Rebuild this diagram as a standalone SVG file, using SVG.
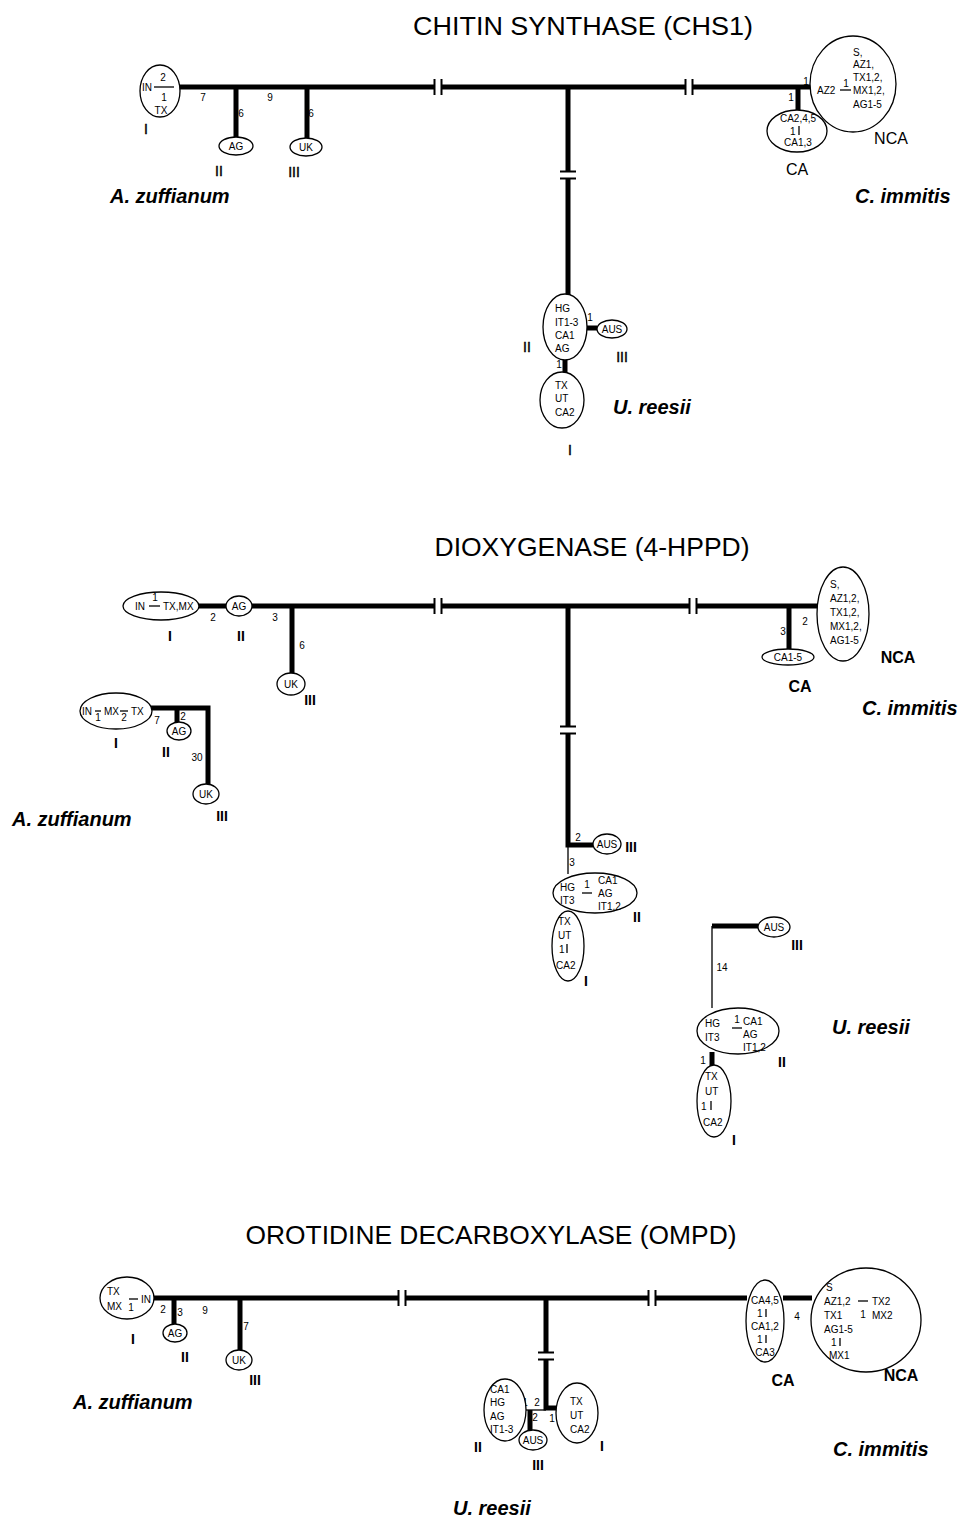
<svg xmlns="http://www.w3.org/2000/svg" xmlns:xlink="http://www.w3.org/1999/xlink" width="968" height="1520" viewBox="0 0 968 1520">
<style>
.th{stroke:#000;stroke-width:5;fill:none}
.tn{stroke:#000;stroke-width:1.3;fill:none}
.el{fill:#fff;stroke:#000;stroke-width:1.3}
.bk{stroke:#000;stroke-width:2}
text{font-family:"Liberation Sans",Arial,sans-serif;fill:#000}
.s{font-size:10px}
.c{text-anchor:middle}
.rn{font-size:14px;stroke:#000;stroke-width:0.4}
.rb{font-size:14px;font-weight:bold}
.sp{font-size:20px;font-weight:bold;font-style:italic}
.ti{font-size:25px}
.cl{font-size:16px}
.clb{font-size:16px;font-weight:bold}
</style>
<defs>
<g id="hb"><rect x="-3.5" y="-6" width="7" height="12" fill="#fff"/><line class="bk" x1="-3.5" y1="-8" x2="-3.5" y2="8"/><line class="bk" x1="3.5" y1="-8" x2="3.5" y2="8"/></g>
<g id="vb"><rect x="-6" y="-3.5" width="12" height="7" fill="#fff"/><line class="bk" x1="-8" y1="-3.5" x2="8" y2="-3.5"/><line class="bk" x1="-8" y1="3.5" x2="8" y2="3.5"/></g>
</defs>
<rect width="968" height="1520" fill="#fff"/>

<!-- ================= CHS1 ================= -->
<text class="ti c" x="583" y="35" textLength="340" lengthAdjust="spacingAndGlyphs">CHITIN SYNTHASE (CHS1)</text>

<g id="connectors-chs1">
<path class="th" d="M172 87H812M236 87V137M307 87V138M568 87V295M798 87V110M587 328H597M565 359V373"/>
<use xlink:href="#hb" x="438" y="87"/>
<use xlink:href="#hb" x="689" y="87"/>
<use xlink:href="#vb" x="568" y="175"/>
<text class="s c" x="203" y="101">7</text>
<text class="s c" x="270" y="101">9</text>
<text class="s c" x="241" y="117">6</text>
<text class="s c" x="311" y="117">6</text>
<text class="s c" x="806" y="85">1</text>
<text class="s c" x="791" y="101">1</text>
<text class="s c" x="590" y="321">1</text>
<text class="s c" x="559" y="368">1</text>
</g>

<g id="chs1-az-I">
<ellipse class="el" cx="160" cy="91" rx="20" ry="26"/>
<line class="tn" x1="154" y1="87" x2="174" y2="87"/>
<text class="s" x="142" y="91">IN</text>
<text class="s c" x="163" y="81">2</text>
<text class="s c" x="164" y="101">1</text>
<text class="s c" x="161" y="114">TX</text>
<text class="rn c" x="146" y="134">I</text>
</g>
<g id="chs1-az-II">
<ellipse class="el" cx="236" cy="146" rx="17" ry="9"/>
<text class="s c" x="236" y="150">AG</text>
<text class="rn c" x="219" y="176">II</text>
</g>
<g id="chs1-az-III">
<ellipse class="el" cx="306" cy="147" rx="16" ry="9"/>
<text class="s c" x="306" y="151">UK</text>
<text class="rn c" x="294" y="177">III</text>
</g>
<text class="sp" x="110" y="203">A. zuffianum</text>

<g id="chs1-ci-NCA">
<ellipse class="el" cx="853" cy="84" rx="43" ry="48"/>
<text class="s" x="853" y="56">S,</text>
<text class="s" x="853" y="68">AZ1,</text>
<text class="s" x="853" y="81">TX1,2,</text>
<text class="s" x="853" y="94">MX1,2,</text>
<text class="s" x="853" y="108">AG1-5</text>
<text class="s" x="817" y="94">AZ2</text>
<line class="tn" x1="840" y1="90" x2="851" y2="90"/>
<text class="s c" x="846" y="87">1</text>
<text class="cl c" x="891" y="144">NCA</text>
</g>
<g id="chs1-ci-CA">
<ellipse class="el" cx="797" cy="131" rx="30" ry="21"/>
<text class="s c" x="798" y="122">CA2,4,5</text>
<text class="s" x="790" y="135">1</text>
<line class="tn" x1="799" y1="126" x2="799" y2="135"/>
<text class="s c" x="798" y="146">CA1,3</text>
<text class="cl c" x="797" y="175">CA</text>
</g>
<text class="sp" x="855" y="203">C. immitis</text>

<g id="chs1-ur-II">
<ellipse class="el" cx="565" cy="327" rx="22" ry="33"/>
<text class="s" x="555" y="312">HG</text>
<text class="s" x="555" y="326">IT1-3</text>
<text class="s" x="555" y="339">CA1</text>
<text class="s" x="555" y="352">AG</text>
<text class="rn c" x="527" y="352">II</text>
</g>
<g id="chs1-ur-III">
<ellipse class="el" cx="612" cy="329" rx="15" ry="9"/>
<text class="s c" x="612" y="333">AUS</text>
<text class="rn c" x="622" y="362">III</text>
</g>
<g id="chs1-ur-I">
<ellipse class="el" cx="562" cy="400" rx="22" ry="28"/>
<text class="s" x="555" y="389">TX</text>
<text class="s" x="555" y="402">UT</text>
<text class="s" x="555" y="416">CA2</text>
<text class="rn c" x="570" y="455">I</text>
</g>
<text class="sp" x="613" y="414">U. reesii</text>

<!-- ================= 4-HPPD ================= -->
<text class="ti c" x="592" y="556" textLength="315" lengthAdjust="spacingAndGlyphs">DIOXYGENASE (4-HPPD)</text>

<g id="connectors-hppd">
<path class="th" d="M199 606H226M252 606H818M292 606V673M789 606V649M568 606V845H593M150 708H208V784M177 708V723M712 926H758M712 1052V1066"/>
<path class="tn" d="M568 845V874M712 926V1008"/>
<use xlink:href="#hb" x="438" y="606"/>
<use xlink:href="#hb" x="693" y="606"/>
<use xlink:href="#vb" x="568" y="730"/>
<text class="s c" x="213" y="621">2</text>
<text class="s c" x="275" y="621">3</text>
<text class="s c" x="302" y="649">6</text>
<text class="s c" x="783" y="635">3</text>
<text class="s c" x="805" y="625">2</text>
<text class="s c" x="157" y="724">7</text>
<text class="s c" x="183" y="720">2</text>
<text class="s c" x="197" y="761">30</text>
<text class="s c" x="578" y="841">2</text>
<text class="s c" x="572" y="866">3</text>
<text class="s c" x="722" y="971">14</text>
<text class="s c" x="703" y="1064">1</text>
</g>

<g id="hppd-az-I">
<ellipse class="el" cx="161" cy="606" rx="38" ry="14"/>
<text class="s" x="135" y="610">IN</text>
<line class="tn" x1="149" y1="606" x2="160" y2="606"/>
<text class="s c" x="155" y="601">1</text>
<text class="s" x="163" y="610">TX,MX</text>
<text class="rb c" x="170" y="641">I</text>
</g>
<g id="hppd-az-II">
<ellipse class="el" cx="239" cy="606" rx="13" ry="10"/>
<text class="s c" x="239" y="610">AG</text>
<text class="rb c" x="241" y="641">II</text>
</g>
<g id="hppd-az-III">
<ellipse class="el" cx="291" cy="684" rx="14" ry="11"/>
<text class="s c" x="291" y="688">UK</text>
<text class="rb c" x="310" y="705">III</text>
</g>
<g id="hppd-az2-I">
<ellipse class="el" cx="116" cy="711" rx="36" ry="18"/>
<text class="s" x="82" y="715">IN</text>
<line class="tn" x1="95" y1="711" x2="101" y2="711"/>
<text class="s c" x="98" y="721">1</text>
<text class="s" x="104" y="715">MX</text>
<line class="tn" x1="120" y1="711" x2="128" y2="711"/>
<text class="s c" x="124" y="721">2</text>
<text class="s" x="131" y="715">TX</text>
<text class="rb c" x="116" y="748">I</text>
</g>
<g id="hppd-az2-II">
<ellipse class="el" cx="179" cy="731" rx="12" ry="9"/>
<text class="s c" x="179" y="735">AG</text>
<text class="rb c" x="166" y="757">II</text>
</g>
<g id="hppd-az2-III">
<ellipse class="el" cx="206" cy="794" rx="13" ry="10"/>
<text class="s c" x="206" y="798">UK</text>
<text class="rb c" x="222" y="821">III</text>
</g>
<text class="sp" x="12" y="826">A. zuffianum</text>

<g id="hppd-ci-NCA">
<ellipse class="el" cx="843" cy="614" rx="26" ry="47"/>
<text class="s" x="830" y="588">S,</text>
<text class="s" x="830" y="602">AZ1,2,</text>
<text class="s" x="830" y="616">TX1,2,</text>
<text class="s" x="830" y="630">MX1,2,</text>
<text class="s" x="830" y="644">AG1-5</text>
<text class="clb c" x="898" y="663">NCA</text>
</g>
<g id="hppd-ci-CA">
<ellipse class="el" cx="788" cy="657" rx="26" ry="8"/>
<text class="s c" x="788" y="661">CA1-5</text>
<text class="clb c" x="800" y="692">CA</text>
</g>
<text class="sp" x="862" y="715">C. immitis</text>

<g id="hppd-ur1-III">
<ellipse class="el" cx="607" cy="844" rx="14" ry="10"/>
<text class="s c" x="607" y="848">AUS</text>
<text class="rb c" x="631" y="852">III</text>
</g>
<g id="hppd-ur1-I">
<ellipse class="el" cx="568" cy="946" rx="16" ry="35"/>
<text class="s" x="558" y="925">TX</text>
<text class="s" x="558" y="939">UT</text>
<text class="s" x="559" y="953">1</text>
<line class="tn" x1="567" y1="944" x2="567" y2="953"/>
<text class="s" x="556" y="969">CA2</text>
<text class="rb c" x="586" y="986">I</text>
</g>
<g id="hppd-ur1-II">
<ellipse class="el" cx="595" cy="893" rx="42" ry="20"/>
<text class="s" x="560" y="891">HG</text>
<text class="s" x="560" y="904">IT3</text>
<line class="tn" x1="582" y1="893" x2="592" y2="893"/>
<text class="s c" x="587" y="888">1</text>
<text class="s" x="598" y="884">CA1</text>
<text class="s" x="598" y="897">AG</text>
<text class="s" x="598" y="910">IT1,2</text>
<text class="rb c" x="637" y="922">II</text>
</g>

<g id="hppd-ur2-III">
<ellipse class="el" cx="774" cy="927" rx="16" ry="10"/>
<text class="s c" x="774" y="931">AUS</text>
<text class="rb c" x="797" y="950">III</text>
</g>
<g id="hppd-ur2-II">
<ellipse class="el" cx="738" cy="1031" rx="41" ry="23"/>
<text class="s" x="705" y="1027">HG</text>
<text class="s" x="705" y="1041">IT3</text>
<line class="tn" x1="732" y1="1028" x2="742" y2="1028"/>
<text class="s c" x="737" y="1023">1</text>
<text class="s" x="743" y="1025">CA1</text>
<text class="s" x="743" y="1038">AG</text>
<text class="s" x="743" y="1051">IT1,2</text>
<text class="rb c" x="782" y="1067">II</text>
</g>
<g id="hppd-ur2-I">
<ellipse class="el" cx="714" cy="1101" rx="17" ry="36"/>
<text class="s" x="705" y="1080">TX</text>
<text class="s" x="705" y="1095">UT</text>
<text class="s" x="701" y="1110">1</text>
<line class="tn" x1="711" y1="1101" x2="711" y2="1110"/>
<text class="s" x="703" y="1126">CA2</text>
<text class="rb c" x="734" y="1145">I</text>
</g>
<text class="sp" x="832" y="1034">U. reesii</text>

<!-- ================= OMPD ================= -->
<text class="ti c" x="491" y="1244" textLength="491" lengthAdjust="spacingAndGlyphs">OROTIDINE DECARBOXYLASE (OMPD)</text>

<g id="connectors-ompd">
<path class="th" d="M154 1298H747M783 1298H812M174 1298V1324M240 1298V1350M546 1298V1408H556M530 1410V1430"/>
<path class="tn" d="M524 1410H546"/>
<use xlink:href="#hb" x="402" y="1298"/>
<use xlink:href="#hb" x="652" y="1298"/>
<use xlink:href="#vb" x="546" y="1356"/>
<text class="s c" x="163" y="1313">2</text>
<text class="s c" x="180" y="1316">3</text>
<text class="s c" x="205" y="1314">9</text>
<text class="s c" x="246" y="1330">7</text>
<text class="s c" x="797" y="1320">4</text>
<text class="s c" x="525" y="1406">1</text>
<text class="s c" x="537" y="1406">2</text>
<text class="s c" x="535" y="1421">2</text>
<text class="s c" x="552" y="1422">1</text>
</g>

<g id="ompd-az-I">
<ellipse class="el" cx="127" cy="1298" rx="27" ry="21"/>
<text class="s" x="107" y="1295">TX</text>
<text class="s" x="107" y="1310">MX</text>
<line class="tn" x1="129" y1="1299" x2="138" y2="1299"/>
<text class="s c" x="131" y="1311">1</text>
<text class="s" x="141" y="1303">IN</text>
<text class="rb c" x="133" y="1344">I</text>
</g>
<g id="ompd-az-II">
<ellipse class="el" cx="175" cy="1333" rx="12" ry="9"/>
<text class="s c" x="175" y="1337">AG</text>
<text class="rb c" x="185" y="1362">II</text>
</g>
<g id="ompd-az-III">
<ellipse class="el" cx="239" cy="1360" rx="13" ry="10"/>
<text class="s c" x="239" y="1364">UK</text>
<text class="rb c" x="255" y="1385">III</text>
</g>
<text class="sp" x="73" y="1409">A. zuffianum</text>

<g id="ompd-ci-CA">
<ellipse class="el" cx="765" cy="1321" rx="19" ry="41"/>
<text class="s c" x="765" y="1304">CA4,5</text>
<text class="s" x="757" y="1317">1</text>
<line class="tn" x1="766" y1="1309" x2="766" y2="1317"/>
<text class="s c" x="765" y="1330">CA1,2</text>
<text class="s" x="757" y="1343">1</text>
<line class="tn" x1="766" y1="1335" x2="766" y2="1343"/>
<text class="s c" x="765" y="1356">CA3</text>
<text class="clb c" x="783" y="1386">CA</text>
</g>
<g id="ompd-ci-NCA">
<ellipse class="el" cx="866" cy="1320" rx="55" ry="52"/>
<text class="s" x="826" y="1291">S</text>
<text class="s" x="824" y="1305">AZ1,2</text>
<text class="s" x="824" y="1319">TX1</text>
<text class="s" x="824" y="1333">AG1-5</text>
<text class="s" x="831" y="1346">1</text>
<line class="tn" x1="840" y1="1338" x2="840" y2="1346"/>
<text class="s" x="829" y="1359">MX1</text>
<line class="tn" x1="858" y1="1301" x2="868" y2="1301"/>
<text class="s c" x="863" y="1318">1</text>
<text class="s" x="872" y="1305">TX2</text>
<text class="s" x="872" y="1319">MX2</text>
<text class="clb c" x="901" y="1381">NCA</text>
</g>
<text class="sp" x="833" y="1456">C. immitis</text>

<g id="ompd-ur-II">
<ellipse class="el" cx="505" cy="1410" rx="21" ry="31"/>
<text class="s" x="490" y="1393">CA1</text>
<text class="s" x="490" y="1406">HG</text>
<text class="s" x="490" y="1420">AG</text>
<text class="s" x="490" y="1433">IT1-3</text>
<text class="rb c" x="478" y="1452">II</text>
</g>
<g id="ompd-ur-III">
<ellipse class="el" cx="533" cy="1440" rx="14" ry="10"/>
<text class="s c" x="533" y="1444">AUS</text>
<text class="rb c" x="538" y="1470">III</text>
</g>
<g id="ompd-ur-I">
<ellipse class="el" cx="577" cy="1413" rx="21" ry="30"/>
<text class="s" x="570" y="1405">TX</text>
<text class="s" x="570" y="1419">UT</text>
<text class="s" x="570" y="1433">CA2</text>
<text class="rb c" x="602" y="1451">I</text>
</g>
<text class="sp" x="453" y="1515">U. reesii</text>
</svg>
